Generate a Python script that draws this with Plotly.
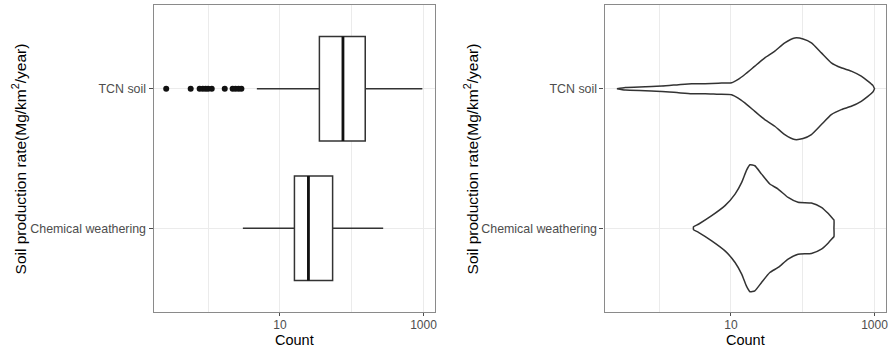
import plotly.graph_objects as go

# ---------------- data ----------------
categories = ["Chemical weathering", "TCN soil"]

# box plot statistics (Count, log scale)
box_lowerfence = [3.04, 4.76]
box_q1 = [15.9, 35.4]
box_median = [24.9, 75.4]
box_q3 = [54.1, 154]
box_upperfence = [274, 962]

# outliers for TCN soil
tcn_outliers = [0.26, 0.57, 0.76, 0.84, 0.92, 1.0, 1.12, 1.7, 2.19, 2.4, 2.65, 2.9]

# violin profiles: value along x and half-width (in category units)
tcn_vals = [0.258, 0.337, 0.64, 1.09, 1.86, 2.84, 4.36, 6.67, 10.2, 12.6, 15.6, 21.5,
            29.6, 40.8, 56.2, 77.4, 101, 132, 182, 250, 344, 474, 653, 807, 948, 1000]
tcn_halfw = [0.0, 0.0095, 0.014, 0.019, 0.029, 0.036, 0.036, 0.040, 0.043, 0.067, 0.102, 0.162,
             0.221, 0.269, 0.329, 0.364, 0.357, 0.329, 0.257, 0.186, 0.15, 0.126, 0.09, 0.055, 0.024, 0.0]

chem_vals = [3.0, 3.0, 3.52, 5.39, 8.26, 11.4, 14.1, 16.5, 18.4, 21.5, 26.7, 34.8, 45.4,
             62.5, 86.1, 132, 182, 225, 264, 272, 272]
chem_halfw = [0.0, 0.0095, 0.029, 0.090, 0.162, 0.245, 0.329, 0.417, 0.455, 0.448, 0.388, 0.317,
              0.281, 0.221, 0.186, 0.181, 0.15, 0.107, 0.067, 0.06, 0.0]

x_ticks = [10, 1000]
x_tick_text = ["10", "1000"]
x_minor = [1, 100]

# ---------------- styling ----------------
LINE = "#333333"
GRID = "#ebebeb"
BORDER = "#8a8a8a"
TICKC = "#4d4d4d"
FONT = "Liberation Sans, Arial, sans-serif"
BOX_W = 0.75

W, H = 894, 349
def px_x(p):
    return p / W
def px_y(p):
    return 1 - p / H

fig = go.Figure()

cat_pos = list(range(len(categories)))

# ---- left panel: box plots ----
for i, c in enumerate(categories):
    fig.add_trace(go.Box(
        y=[cat_pos[i]], q1=[box_q1[i]], median=[box_median[i]], q3=[box_q3[i]],
        lowerfence=[box_lowerfence[i]], upperfence=[box_upperfence[i]],
        orientation="h", width=BOX_W, whiskerwidth=0,
        fillcolor="white", line=dict(color=LINE, width=1.5),
        xaxis="x", yaxis="y", showlegend=False, hoverinfo="skip",
    ))
    # thicker median line (ggplot style)
    fig.add_trace(go.Scatter(
        x=[box_median[i], box_median[i]],
        y=[cat_pos[i] - BOX_W / 2, cat_pos[i] + BOX_W / 2],
        mode="lines", line=dict(color="#111111", width=2.8),
        xaxis="x", yaxis="y", showlegend=False, hoverinfo="skip",
    ))

fig.add_trace(go.Scatter(
    x=tcn_outliers, y=[cat_pos[1]] * len(tcn_outliers), mode="markers",
    marker=dict(color="#111111", size=6),
    xaxis="x", yaxis="y", showlegend=False, hoverinfo="skip",
))

# ---- right panel: violins ----
for pos, vals, hw in [(cat_pos[1], tcn_vals, tcn_halfw), (cat_pos[0], chem_vals, chem_halfw)]:
    xs = list(vals) + list(reversed(vals)) + [vals[0]]
    ys = [pos + h for h in hw] + [pos - h for h in reversed(hw)] + [pos + hw[0]]
    fig.add_trace(go.Scatter(
        x=xs, y=ys, mode="lines", fill="toself", fillcolor="white",
        line=dict(color=LINE, width=1.5, shape="spline", smoothing=0.5),
        xaxis="x2", yaxis="y2", showlegend=False, hoverinfo="skip",
    ))

xr = [-0.76, 3.16]
yr = [-0.6, 1.6]
y_dom = [px_y(312), px_y(5)]

xcommon = dict(
    type="log", range=xr, tickmode="array", tickvals=x_ticks, ticktext=x_tick_text,
    showgrid=True, gridcolor=GRID, gridwidth=1, zeroline=False,
    ticks="outside", ticklen=3, tickcolor=TICKC, tickwidth=1, ticklabelstandoff=-2,
    tickfont=dict(family=FONT, size=12, color=TICKC),
    minor=dict(tickmode="array", tickvals=x_minor, showgrid=True, gridcolor=GRID, gridwidth=1, ticks=""),
    showline=True, linecolor=BORDER, linewidth=1.3, mirror=True,
)
ycommon = dict(
    range=yr, tickmode="array", tickvals=cat_pos, ticktext=categories,
    showgrid=True, gridcolor=GRID, gridwidth=1, zeroline=False,
    ticks="outside", ticklen=4, tickcolor=TICKC, tickwidth=1,
    tickfont=dict(family=FONT, size=12.4, color=TICKC),
    showline=True, linecolor=BORDER, linewidth=1.3, mirror=True,
    domain=y_dom,
)

fig.update_layout(
    width=W, height=H,
    margin=dict(l=0, r=0, t=0, b=0),
    paper_bgcolor="white", plot_bgcolor="white",
    font=dict(family=FONT, color="black"),
    xaxis=dict(domain=[px_x(154), px_x(436)], anchor="y", **xcommon),
    yaxis=dict(anchor="x", **ycommon),
    xaxis2=dict(domain=[px_x(606), px_x(888)], anchor="y2", **xcommon),
    yaxis2=dict(anchor="x2", **ycommon),
)

ytitle = "Soil production rate(Mg/km<sup>2</sup>/year)"
ann = []
for xc in [295, 747]:
    ann.append(dict(text="Count", x=px_x(xc), y=px_y(339.5), xref="paper", yref="paper",
                    xanchor="center", yanchor="middle", showarrow=False,
                    font=dict(family=FONT, size=14.5, color="black")))
for xc in [19, 472]:
    ann.append(dict(text=ytitle, x=px_x(xc), y=px_y(158.5), xref="paper", yref="paper",
                    xanchor="center", yanchor="middle", showarrow=False, textangle=-90,
                    font=dict(family=FONT, size=15.5, color="black")))
fig.update_layout(annotations=ann)

fig.write_html("out.html", config={"displayModeBar": False},
               post_script="document.body.style.margin='0px';document.body.style.overflow='hidden';")
